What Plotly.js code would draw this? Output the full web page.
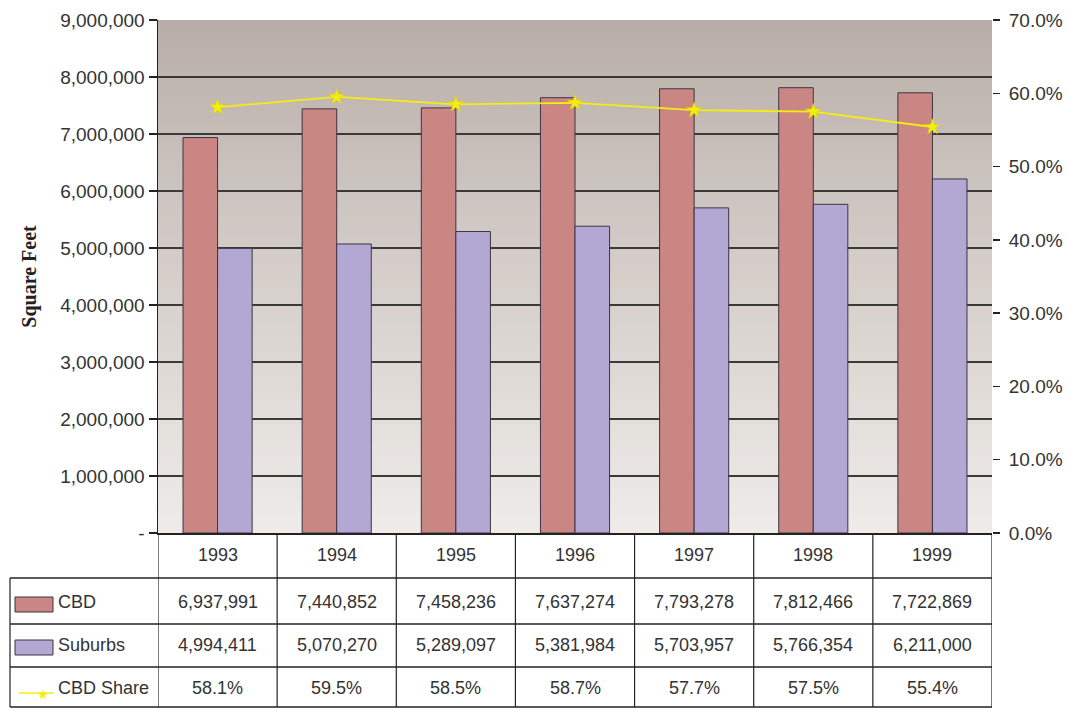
<!DOCTYPE html>
<html><head><meta charset="utf-8">
<script src="https://cdn.plot.ly/plotly-3.0.1.min.js"></script>
<style>html,body{margin:0;padding:0;background:#fff}#chart{width:1069px;height:710px}</style>
</head><body><div id="chart"></div>
<script>
const years = ['1993','1994','1995','1996','1997','1998','1999'];
const cbd = [6937991, 7440852, 7458236, 7637274, 7793278, 7812466, 7722869];
const suburbs = [4994411, 5070270, 5289097, 5381984, 5703957, 5766354, 6211000];
const cbdShare = [58.1, 59.5, 58.5, 58.7, 57.7, 57.5, 55.4];
const leftTickVals = [0,1000000,2000000,3000000,4000000,5000000,6000000,7000000,8000000,9000000];
const leftTickText = ['-','1,000,000','2,000,000','3,000,000','4,000,000','5,000,000','6,000,000','7,000,000','8,000,000','9,000,000'];
const rightTickVals = [0,10,20,30,40,50,60,70];
const rightTickText = ['0.0%','10.0%','20.0%','30.0%','40.0%','50.0%','60.0%','70.0%'];
const seriesNames = ['CBD','Suburbs','CBD Share'];

const COL_CBD = '#c98682', COL_SUB = '#b2a8d3', COL_LINE = '#f4ee10';
const FONT = 'Liberation Sans, Arial, sans-serif';
const TXT = '#333333';

const traces = [
  {type:'bar', x: years, y: cbd, name: seriesNames[0], marker:{color:COL_CBD, line:{color:'#3e3444', width:1}}},
  {type:'bar', x: years, y: suburbs, name: seriesNames[1], marker:{color:COL_SUB, line:{color:'#3e3444', width:1}}},
  {type:'scatter', mode:'lines+markers', x: years, y: cbdShare, yaxis:'y2', name: seriesNames[2],
   line:{color:COL_LINE, width:1.8}, marker:{symbol:'star', size:12, color:COL_LINE, line:{color:'#d8cc00', width:0.5}}}
];

// plot area pixel geometry
const PT = 20, PB = 533, PL = 158, PR = 992, PH = PB - PT, PW = PR - PL;
const py = p => (PB - p) / PH;
const px = p => (p - PL) / PW;

const shapes = [];
// vertical gradient background
const N = 80;
const gTop = [184,173,167], gBot = [238,235,232];
for (let i = 0; i < N; i++) {
  const t = i / (N - 1);
  const c = gTop.map((v, k) => Math.round(v + (gBot[k] - v) * Math.pow(t, 0.9)));
  shapes.push({type:'rect', xref:'paper', yref:'paper', x0:0, x1:1, y0:1 - i / N, y1:1 - (i + 1) / N - 0.002,
    fillcolor:`rgb(${c[0]},${c[1]},${c[2]})`, line:{width:0}, layer:'below'});
}
// table grid
const rowLines = [578, 624, 667, 707];
const LEFTX = px(10);
rowLines.forEach(r => shapes.push({type:'line', xref:'paper', yref:'paper', x0:LEFTX, x1:1, y0:py(r), y1:py(r), line:{color:'#222', width:1.5}}));
shapes.push({type:'line', xref:'paper', yref:'paper', x0:LEFTX, x1:LEFTX, y0:py(578), y1:py(707), line:{color:'#222', width:1.2}});
for (let i = 0; i <= years.length; i++) {
  shapes.push({type:'line', xref:'x', yref:'paper', x0:i - 0.5, x1:i - 0.5, y0:0, y1:py(707), line:{color:'#222', width:1.2}});
}
// legend keys
shapes.push({type:'rect', xref:'paper', yref:'paper', x0:px(15), x1:px(53), y0:py(597), y1:py(612), fillcolor:COL_CBD, line:{color:'#3e3444', width:1}});
shapes.push({type:'rect', xref:'paper', yref:'paper', x0:px(15), x1:px(53), y0:py(640), y1:py(655), fillcolor:COL_SUB, line:{color:'#3e3444', width:1}});
shapes.push({type:'line', xref:'paper', yref:'paper', x0:px(19), x1:px(54), y0:py(693), y1:py(693), line:{color:COL_LINE, width:1.5}});

const annotations = [];
const rowY = [py(555), py(602), py(645), py(688)];
const cellFont = {family:FONT, size:18, color:TXT};
years.forEach((yr, i) => {
  annotations.push({xref:'x', yref:'paper', x:i, y:rowY[0], yanchor:'middle', text:yr, showarrow:false, font:cellFont});
  annotations.push({xref:'x', yref:'paper', x:i, y:rowY[1], yanchor:'middle', text:cbd[i].toLocaleString('en-US'), showarrow:false, font:cellFont});
  annotations.push({xref:'x', yref:'paper', x:i, y:rowY[2], yanchor:'middle', text:suburbs[i].toLocaleString('en-US'), showarrow:false, font:cellFont});
  annotations.push({xref:'x', yref:'paper', x:i, y:rowY[3], yanchor:'middle', text:cbdShare[i].toFixed(1) + '%', showarrow:false, font:cellFont});
});
seriesNames.forEach((n, k) => {
  annotations.push({xref:'paper', yref:'paper', x:px(56), y:rowY[k + 1], xanchor:'left', yanchor:'middle', text:n, showarrow:false, font:cellFont});
});
annotations.push({xref:'paper', yref:'paper', x:px(35), y:py(694), yanchor:'middle', text:'★', showarrow:false, font:{family:'DejaVu Sans', size:13, color:COL_LINE}});

const layout = {
  width:1069, height:710,
  margin:{l:PL, r:1069 - PR, t:PT, b:710 - PB, pad:0},
  paper_bgcolor:'#ffffff', plot_bgcolor:'rgba(0,0,0,0)',
  showlegend:false,
  barmode:'group', bargap:0.42, bargroupgap:0,
  font:{family:FONT, color:TXT},
  xaxis:{type:'category', showticklabels:false, ticks:'', showgrid:false, showline:true, linecolor:'#222', linewidth:1.5, zeroline:false, fixedrange:true, range:[-0.5, 6.5]},
  yaxis:{range:[0, 9000000], tickvals:leftTickVals, ticktext:leftTickText, ticks:'outside', ticklen:8, tickcolor:'#222', tickwidth:1.5,
    showline:true, linecolor:'#222', linewidth:1.5, showgrid:true, gridcolor:'#3a3a3a', gridwidth:1.3, zeroline:false,
    tickfont:{family:FONT, size:19, color:TXT},
    title:{text:'<b>Square Feet</b>', standoff:18, font:{family:'Liberation Serif, Times New Roman, serif', size:20, color:'#222'}}},
  yaxis2:{overlaying:'y', side:'right', range:[0, 70], tickvals:rightTickVals, ticktext:rightTickText, ticks:'outside', ticklen:7, tickcolor:'#222', tickwidth:1.5,
    ticklabelstandoff:5,
    showline:false, showgrid:false, zeroline:false, tickfont:{family:FONT, size:19, color:TXT}},
  shapes:shapes, annotations:annotations
};
Plotly.newPlot('chart', traces, layout, {displayModeBar:false, staticPlot:true});
</script></body></html>
